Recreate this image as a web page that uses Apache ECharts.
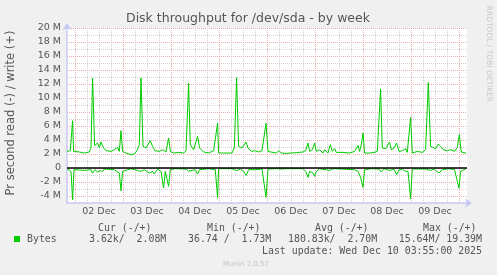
<!DOCTYPE html>
<html>
<head>
<meta charset="utf-8">
<script src="https://cdn.jsdelivr.net/npm/echarts@6/dist/echarts.min.js"></script>
<style>
html,body{margin:0;padding:0;background:#f0f0f0;}
#c{width:497px;height:275px;}
</style>
</head>
<body>
<div id="c"></div>
<script>
// ---- data (hours since 02 Dec 00:00, values in MB/s) ----
const writeHours = [-4.0,-3.35,-2.35,-1.7,-1.2,-0.7,2.15,4.65,7.15,8.0,
  8.8,9.8,11.3,12.2,13.0,14.3,15.5,18.0,19.65,21.3,
  22.15,23.0,23.8,25.5,28.0,29.65,31.0,32.15,33.0,34.0,
  35.5,37.65,38.8,40.0,42.15,43.8,44.65,45.5,46.8,47.65,
  49.3,51.8,54.3,55.5,56.8,57.65,59.3,61.3,62.3,64.3,
  66.8,69.3,70.15,71.3,71.8,74.3,78.5,79.65,80.8,81.8,
  83.5,85.5,86.5,88.15,90.15,91.8,93.5,95.5,96.5,97.3,
  100.65,102,103.15,105.65,110.65,114,115.3,116.5,117.3,118.65,
  119.8,120.65,122.3,124,124.8,126.5,127.65,128.65,129.8,130.65,
  134,137.3,139.8,141.5,142.3,143.15,144,144.8,147.3,149.5,
  151.15,152.8,153.65,155.3,157.3,158.15,159.5,160.8,162,163.65,
  165.3,166.15,167.8,168.65,171.15,173.65,175.3,176.65,177.8,180.3,
  181.65,182.8,184.15,186.15,187.8,189.8,191.15,192.15,193.15,195.5];
const writeValues = [2.37,2.61,2.47,2.37,6.76,2.37,2.29,2.14,2.29,2.86,
  12.86,3.2,3.57,2.9,3.71,2.86,2.47,2.37,2.61,2.94,
  2.37,5.33,2.37,2.14,1.9,2.0,2.47,3.33,12.86,3.09,
  2.86,3.9,3.09,2.47,2.37,2.61,2.86,2.29,4.29,2.37,
  2.14,2.23,2.14,2.47,12.1,3.33,2.61,4.5,2.86,2.29,
  2.14,2.47,2.23,6.4,2.14,2.14,2.14,2.86,12.9,3.09,
  2.86,3.71,2.86,2.37,2.47,2.29,2.47,6.4,2.37,2.23,
  2.14,2.47,2.14,2.09,2.19,2.29,2.47,3.57,2.37,2.61,
  3.57,2.37,2.61,2.14,2.61,2.14,3.33,2.37,2.76,2.23,
  2.23,2.14,2.37,3.23,2.37,3.33,5.0,2.14,2.14,2.23,
  2.37,11.3,2.86,2.76,3.7,2.61,2.86,3.57,2.37,2.47,
  2.76,2.23,7.2,2.14,2.37,2.23,2.61,12.2,3.09,2.76,
  3.43,3.09,2.61,2.47,2.61,2.37,2.94,4.76,2.29,2.14];
const readHours = [-4.0,-2.0,-1.2,-0.5,4.65,8.0,8.8,9.98,11.3,12.7,
  13.8,14.65,19.65,22.15,23.0,23.8,28.0,33.0,34.65,35.5,
  37.15,38.8,39.65,41.3,43.0,44.3,45.15,46.8,47.65,50.15,
  55.5,56.8,58.5,60.15,61.3,62.3,66.8,70.15,71.3,71.8,
  78.5,80.8,82.65,84.3,85.65,86.8,90.15,93.5,95.5,96.5,
  100.65,101.5,103.15,105.65,114,115.3,116.5,117.3,119,119.8,
  120.65,122.3,127.3,129,139.8,141.5,142.8,144,144.8,148.15,
  152,153.15,154.5,156.15,157.5,159.5,160.8,162,163.65,165.3,
  166.5,167.8,168.65,175.3,177.8,179.5,182,183.65,187,189.8,
  191.15,192,192.8,195.5];
const readValues = [-0.1,-0.48,-4.53,-0.24,-0.34,-0.24,-0.72,-0.24,-0.58,-0.39,
  -0.48,-0.15,-0.24,-0.72,-3.24,-0.48,-0.1,-0.48,-0.24,-0.48,
  -0.72,-0.48,-0.86,-0.15,-0.48,-2.86,-0.48,-2.62,-0.24,-0.1,
  -0.15,-0.48,-0.34,-0.24,-0.86,-0.24,-0.1,-0.24,-4.29,-0.1,
  -0.1,-0.39,-0.15,-0.48,-1.05,-0.24,-0.24,-0.15,-4.2,-0.15,
  -0.1,-0.34,-0.15,-0.1,-0.1,-0.48,-1.34,-0.48,-0.72,-1.2,
  -0.48,-0.1,-0.34,-0.1,-0.24,-0.48,-1.34,-2.77,-0.24,-0.1,
  -0.15,-0.58,-0.1,-0.24,-0.34,-0.15,-0.96,-0.24,-0.15,-0.48,
  -0.48,-4.39,-0.15,-0.15,-0.34,-0.15,-0.72,-0.24,-0.1,-0.24,
  -1.91,-2.86,-0.48,-0.1];
const dayLabels = ['02 Dec','03 Dec','04 Dec','05 Dec','06 Dec','07 Dec','08 Dec','09 Dec'];
const dayNoonHours = [12,36,60,84,108,132,156,180];
const yTickValues = [-4,-2,0,2,4,6,8,10,12,14,16,18,20];
const legendHeaders = ['Cur (-/+)','Min (-/+)','Avg (-/+)','Max (-/+)'];
const legendValues = ['3.62k/  2.08M','36.74 /  1.73M','180.83k/  2.70M','15.64M/ 19.39M'];
const seriesName = 'Bytes';
const lastUpdate = 'Last update: Wed Dec 10 03:55:00 2025';

// ---- grid helpers ----
const midnights = []; for (let h = 0; h <= 192; h += 24) midnights.push(h);
const sixHours = []; for (let h = 6; h <= 196; h += 6) if (h % 24 !== 0) sixHours.push(h);
const yMinor = []; for (let v = -3; v <= 19; v += 2) yMinor.push(v);

const PINK = '#eeaaaa', GRAY = '#d2d2d2', AXIS = '#c8c8f4', TXT = '#555555';
const F = 'DejaVu Sans', FM = 'DejaVu Sans Mono';

const chart = echarts.init(document.getElementById('c'), null, {renderer: 'canvas'});
const hidden = {axisLine:{show:false}, axisLabel:{show:false}};

const option = {
  animation: false,
  backgroundColor: '#f0f0f0',
  grid: {left: 67, top: 28, width: 400, height: 175, show: true, backgroundColor: '#ffffff', borderWidth: 0},
  xAxis: [
    {type:'value', min:-4, max:196,
     axisLine:{show:true, onZero:false, lineStyle:{color:AXIS, width:1.5}, symbol:['none','arrow'], symbolSize:[7,7], symbolOffset:[0,5]},
     axisTick:{show:false},
     axisLabel:{customValues: dayNoonHours, formatter: v => dayLabels[Math.round((v-12)/24)], color:TXT, fontFamily:F, fontSize:9.5, margin:4},
     splitLine:{show:false}},
    {type:'value', min:-4, max:196, ...hidden, axisTick:{show:false, customValues: sixHours},
     splitLine:{show:true, lineStyle:{color:GRAY, type:[1,1], width:1}}},
    {type:'value', min:-4, max:196, ...hidden, axisTick:{show:false, customValues: midnights},
     splitLine:{show:true, lineStyle:{color:PINK, type:[1,1], width:1}}}
  ],
  yAxis: [
    {type:'value', min:-5, max:20,
     axisLine:{show:true, onZero:false, lineStyle:{color:AXIS, width:1.5}, symbol:['none','arrow'], symbolSize:[7,7], symbolOffset:[0,5]},
     axisTick:{show:false, customValues: yTickValues},
     axisLabel:{customValues: yTickValues, formatter: v => v === 0 ? '0' : v + ' M', color:TXT, fontFamily:F, fontSize:9.5, margin:6},
     splitLine:{show:true, lineStyle:{color:PINK, type:[1,1], width:1}}},
    {type:'value', min:-5, max:20, ...hidden, axisTick:{show:false, customValues: yMinor},
     splitLine:{show:true, lineStyle:{color:GRAY, type:[1,1], width:1}}}
  ],
  series: [
    {type:'line', name:'write', xAxisIndex:0, yAxisIndex:0, showSymbol:false, symbol:'none',
     lineStyle:{color:'#00cc00', width:1}, data: writeHours.map((h,i)=>[h, writeValues[i]]),
     markLine:{silent:true, symbol:'none', label:{show:false}, lineStyle:{color:'#000', width:1.5, type:'solid'}, data:[{yAxis:0}], z:5}},
    {type:'line', name:'read', xAxisIndex:0, yAxisIndex:0, showSymbol:false, symbol:'none',
     lineStyle:{color:'#00cc00', width:1}, data: readHours.map((h,i)=>[h, readValues[i]])}
  ],
  graphic: [
    {type:'text', x:248, y:19, style:{text:'Disk throughput for /dev/sda - by week', font:'12.5px "DejaVu Sans"', fill:TXT, textAlign:'center', textVerticalAlign:'middle'}},
    {type:'text', x:11, y:113, rotation:Math.PI/2, style:{text:'Pr second read (-) / write (+)', font:'11.5px "DejaVu Sans"', fill:TXT, textAlign:'center', textVerticalAlign:'middle'}},
    {type:'text', x:489, y:54, rotation:-Math.PI/2, style:{text:'RRDTOOL / TOBI OETIKER', font:'7.5px "DejaVu Sans"', fill:'#c8c8c8', textAlign:'center', textVerticalAlign:'middle'}},
    {type:'rect', shape:{x:14, y:236, width:6, height:6}, style:{fill:'#00cc00'}},
    {type:'text', x:27, y:239, style:{text:seriesName, font:'9.9px "DejaVu Sans Mono"', fill:TXT, textVerticalAlign:'middle'}},
    {type:'text', x:98, y:228, style:{text:legendHeaders[0], font:'9.9px "DejaVu Sans Mono"', fill:TXT, textVerticalAlign:'middle'}},
    {type:'text', x:207, y:228, style:{text:legendHeaders[1], font:'9.9px "DejaVu Sans Mono"', fill:TXT, textVerticalAlign:'middle'}},
    {type:'text', x:315, y:228, style:{text:legendHeaders[2], font:'9.9px "DejaVu Sans Mono"', fill:TXT, textVerticalAlign:'middle'}},
    {type:'text', x:423, y:228, style:{text:legendHeaders[3], font:'9.9px "DejaVu Sans Mono"', fill:TXT, textVerticalAlign:'middle'}},
    {type:'text', x:89, y:239, style:{text:legendValues[0], font:'9.9px "DejaVu Sans Mono"', fill:TXT, textVerticalAlign:'middle'}},
    {type:'text', x:188, y:239, style:{text:legendValues[1], font:'9.9px "DejaVu Sans Mono"', fill:TXT, textVerticalAlign:'middle'}},
    {type:'text', x:288, y:239, style:{text:legendValues[2], font:'9.9px "DejaVu Sans Mono"', fill:TXT, textVerticalAlign:'middle'}},
    {type:'text', x:482, y:239, style:{text:legendValues[3], font:'9.9px "DejaVu Sans Mono"', fill:TXT, textAlign:'right', textVerticalAlign:'middle'}},
    {type:'text', x:482, y:251, style:{text:lastUpdate, font:'9.9px "DejaVu Sans Mono"', fill:TXT, textAlign:'right', textVerticalAlign:'middle'}},
    {type:'text', x:246, y:264, style:{text:'Munin 2.0.57', font:'7px "DejaVu Sans"', fill:'#c4c4c4', textAlign:'center', textVerticalAlign:'middle'}}
  ]
};
chart.setOption(option);
</script>
</body>
</html>
